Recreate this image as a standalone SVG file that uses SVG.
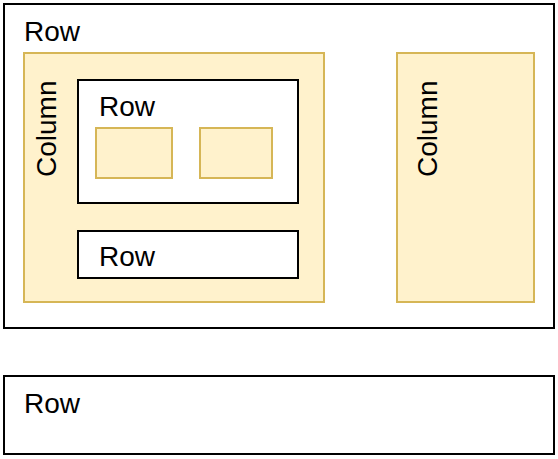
<svg xmlns="http://www.w3.org/2000/svg" width="558" height="459" viewBox="0 0 558 459">
<style>
.row{fill:#ffffff;stroke:#000000;stroke-width:2}
.col{fill:#fff2cc;stroke:#d6b656;stroke-width:2}
.t{font-family:"Liberation Sans",Arial,sans-serif;font-size:28px;fill:#000000}
</style>
<rect width="558" height="459" fill="#ffffff"/>
<g id="row-outer">
<rect class="row" x="4" y="4" width="550" height="324"/>
<text class="t" x="24" y="41">Row</text>
</g>
<g id="column-left">
<rect class="col" x="24" y="53" width="300" height="249"/>
<text class="t" transform="translate(56,177) rotate(-90)">Column</text>
</g>
<g id="row-inner">
<rect class="row" x="78" y="80" width="220" height="123"/>
<text class="t" x="99" y="116">Row</text>
</g>
<g id="box-1">
<rect class="col" x="96" y="128" width="76" height="50"/>
</g>
<g id="box-2">
<rect class="col" x="200" y="128" width="72" height="50"/>
</g>
<g id="row-inner-2">
<rect class="row" x="78" y="231" width="220" height="47"/>
<text class="t" x="99" y="266">Row</text>
</g>
<g id="column-right">
<rect class="col" x="397" y="53" width="137" height="249"/>
<text class="t" transform="translate(437,177) rotate(-90)">Column</text>
</g>
<g id="row-bottom">
<rect class="row" x="4" y="376" width="550" height="78"/>
<text class="t" x="24" y="413">Row</text>
</g>
<g id="connectors"></g>
</svg>
